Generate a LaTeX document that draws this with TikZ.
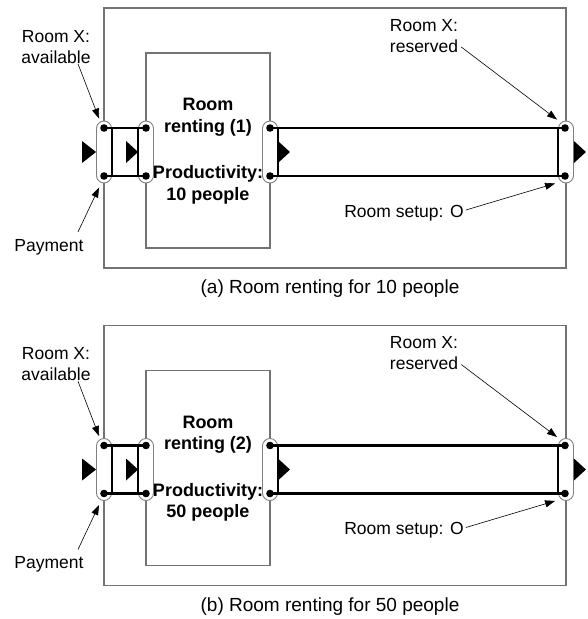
\documentclass[tikz,border=0pt]{standalone}
\usepackage{fontspec}
\setmainfont{Liberation Sans}
\usetikzlibrary{arrows.meta,calc}

\tikzset{
  frame/.style={draw=black!55, line width=1.1pt},
  port/.style={draw=black!50, fill=white, rounded corners=7.5pt, minimum width=15pt,
               minimum height=62pt, inner sep=0pt, line width=0.9pt},
  dot/.style={circle, fill=black, inner sep=0pt, minimum size=7.6pt},
  wire/.style={line width=2.8pt},
  link/.style={line width=1.2pt},
  callout/.style={line width=0.6pt, -{Triangle[length=10pt,width=7pt]}},
  flow/.style={fill=black},
  lbl/.style={font=\fontsize{17.5}{21}\selectfont, inner sep=0pt, align=center},
  title/.style={font=\bfseries\fontsize{18}{21.5}\selectfont, inner sep=0pt, align=center},
  caption/.style={font=\fontsize{19}{23}\selectfont, inner sep=0pt},
}

% #1 name prefix, #2 vertical shift, #3 activity number, #4 people, #5 caption letter
\newcommand\rentpanel[5]{%
  \begin{scope}[yshift=#2]
    % outer and inner frames
    \node[frame, minimum width=462pt, minimum height=260pt, inner sep=0pt] (#1outer) at (335,138) {};
    \node[frame, minimum width=124pt, minimum height=195pt, inner sep=0pt] (#1inner) at (208,150.5) {};
    % ports
    \node[port] (#1p1) at (104,152) {};
    \node[port] (#1p2) at (146,152) {};
    \node[port] (#1p3) at (270,152) {};
    \node[port] (#1p4) at (566,152) {};
    % pin positions
    \coordinate (#1a1) at (104,128); \coordinate (#1b1) at (104,176);
    \coordinate (#1a2) at (146,128); \coordinate (#1b2) at (146,176);
    \coordinate (#1a3) at (270,128); \coordinate (#1b3) at (270,176);
    \coordinate (#1a4) at (565,128); \coordinate (#1b4) at (565,176);
    % links between ports
    \draw[link] (#1p1.east |- #1a1) rectangle (#1p2.west |- #1b1);
    \draw[link] (#1p3.east |- #1a3) rectangle (#1p4.west |- #1b4);
    \draw[wire] (#1a1) -- (#1a2);
    \draw[wire] (#1b1) -- (#1b2);
    \draw[wire] (#1a3) -- (#1a4);
    \draw[wire] (#1b3) -- (#1b4);
    \foreach \q in {a1,b1,a2,b2,a3,b3,a4,b4} \node[dot] (#1d\q) at (#1\q) {};
    % flow markers
    \fill[flow] ($(#1p1.west)+(-14,-11)$) -- (#1p1.west) -- ($(#1p1.west)+(-14,11)$) -- cycle;
    \fill[flow] ($(#1p2.west)+(-12,-11)$) -- (#1p2.west) -- ($(#1p2.west)+(-12,11)$) -- cycle;
    \fill[flow] ($(#1p3.east)+(0,-11)$) -- ($(#1p3.east)+(12,0)$) -- ($(#1p3.east)+(0,11)$) -- cycle;
    \fill[flow] ($(#1p4.east)+(0,-11)$) -- ($(#1p4.east)+(12,0)$) -- ($(#1p4.east)+(0,11)$) -- cycle;
    % texts
    \node[title] (#1t1) at (208,117) {Room\\renting (#3)};
    \node[title] (#1t2) at (208,185) {Productivity:\\#4 people};
    \node[lbl] (#1lav) at (56,47) {Room X:\\available};
    \node[lbl] (#1lpay) at (49,247) {Payment};
    \node[lbl, align=right] (#1lres) at (424,36) {Room X:\\reserved};
    \node[lbl] (#1lset) at (404,213) {Room setup: O};
    % callouts
    \draw[callout] ($(#1lav.south)+(22,0)$) -- ([shift={(3,-2)}]#1p1.north west);
    \draw[callout] ($(#1lpay.north)+(29,-7)$) -- ([shift={(3,4)}]#1p1.south west);
    \draw[callout] ($(#1lres.east)+(3,11)$) -- ([shift={(-1,-1)}]#1p4.north west);
    \draw[callout] ($(#1lset.east)+(2,-3)$) -- ([shift={(-3,0)}]#1p4.south west);
    \node[caption] (#1cap) at (330,289) {(#5) Room renting for #4 people};
  \end{scope}
}

\begin{document}
\begin{tikzpicture}[x=1pt, y=-1pt]
  \useasboundingbox (0,0) rectangle (587,619);
  \rentpanel{A}{0pt}{1}{10}{a}
  \rentpanel{B}{-317.5pt}{2}{50}{b}
\end{tikzpicture}
\end{document}
